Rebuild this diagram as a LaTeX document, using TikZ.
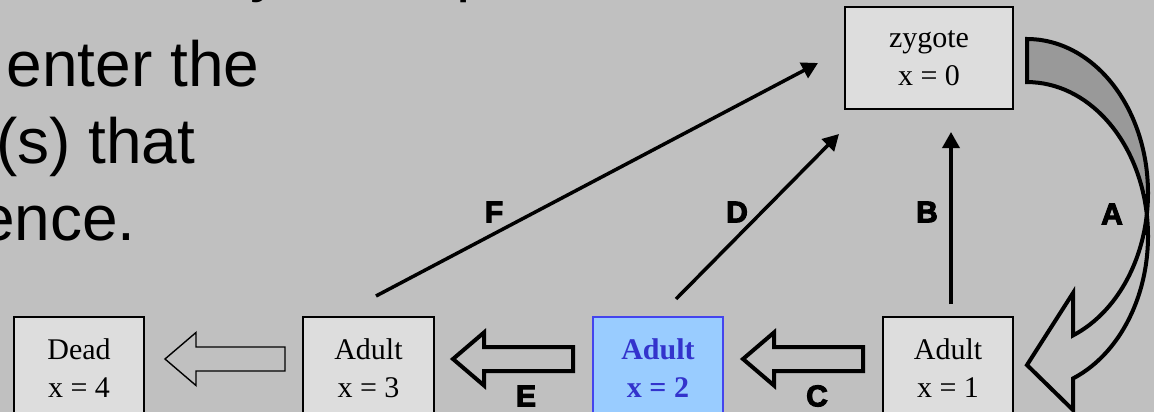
\documentclass[tikz,border=0pt]{standalone}
\usepackage{fontspec}
\setmainfont{Liberation Serif}
\newfontfamily\arialfont{Liberation Sans}
\newfontfamily\heavyfont[FakeBold=3.5]{Liberation Sans Bold}
\usetikzlibrary{arrows.meta,calc}
\definecolor{bg}{HTML}{C0C0C0}
\definecolor{boxfill}{HTML}{DDDDDD}
\definecolor{band}{HTML}{999999}
\definecolor{bluefill}{HTML}{99CCFF}
\definecolor{bluetext}{HTML}{3333CC}
\definecolor{blueline}{HTML}{4444EE}
\tikzset{
  statebox/.style={draw=black, line width=1.3pt, fill=boxfill, align=center,
    minimum width=130pt, minimum height=102pt, inner sep=0pt,
    font=\fontsize{30}{38}\selectfont},
  hibox/.style={statebox, draw=blueline, fill=bluefill, text=bluetext,
    font=\fontsize{30}{38}\selectfont\bfseries},
  bodytext/.style={anchor=base west, inner sep=0pt, font=\arialfont\fontsize{64}{76}\selectfont},
  tlabel/.style={inner sep=0pt, font=\heavyfont\fontsize{30}{30}\selectfont},
  transline/.style={draw=black, line width=3.5pt, -{Triangle[length=16pt,width=17pt]}},
  thinarrow/.style={draw=black, line width=1.4pt, fill=bg, line join=miter},
  thickarrow/.style={draw=black, line width=4pt, fill=bg, line join=miter},
  curvarrow/.style={draw=black, line width=4pt, line join=miter},
  pics/larrow/.style={code={
    \path[pic actions] (0,0) -- (31,26.5) -- (31,12) -- (120,12) -- (120,-12)
      -- (31,-12) -- (31,-26.5) -- cycle;}}
}
\begin{document}
\begin{tikzpicture}[x=1pt,y=1pt]
\useasboundingbox (0,0) rectangle (1154,-412);
\clip (0,0) rectangle (1154,-412);
\fill[bg] (0,0) rectangle (1154,-412);

% text of the slide (cut at the edges)
\node[bodytext] (ty) at (250,10) {y};
\node[bodytext] (tp) at (456,10) {p};
\node[bodytext] (t1) at (6.5,-87) {enter the};
\node[bodytext] (t2) at (-4,-163) {(s) that};
\node[bodytext] (t3) at (-21,-240) {ence.};

% state boxes
\node[statebox, minimum width=168pt] (zyg) at (929,-58) {zygote\\x = 0};
\node[statebox] (a1) at (948,-368) {Adult\\x = 1};
\node[hibox] (a2) at (658,-368) {Adult\\x = 2};
\node[statebox, minimum width=131pt] (a3) at (368.5,-368) {Adult\\x = 3};
\node[statebox] (dead) at (79,-368) {Dead\\x = 4};

% block arrows between bottom boxes
\pic[thinarrow] at (165,-359) {larrow};
\pic[thickarrow] at (453,-359) {larrow};
\pic[thickarrow] at (743,-359) {larrow};

% transition lines
\coordinate (Fs) at (376,-296);
\coordinate (Fe) at (818,-63);
\coordinate (Ds) at (676,-299);
\coordinate (De) at (839,-134);
\coordinate (Bs) at (951,-304);
\coordinate (Be) at (951,-132);
\draw[transline] (Fs) -- (Fe);
\draw[transline] (Ds) -- (De);
\draw[transline] (Bs) -- (Be);

% curved arrow A
\draw[curvarrow, fill=bg] (1146.8,-214.5)
  arc[start angle=8.04, end angle=-67.65, x radius=121pt, y radius=154pt]
  -- (1073,-410) -- (1027,-365) -- (1073,-293) -- (1073,-335.4)
  arc[start angle=-67.65, end angle=-8.04, x radius=121pt, y radius=154pt]
  -- cycle;
\draw[curvarrow, fill=band] (1027,-39)
  arc[start angle=90, end angle=-8.04, x radius=121pt, y radius=154pt]
  arc[start angle=8.04, end angle=90, x radius=121pt, y radius=154pt]
  -- cycle;

% labels
\node[tlabel] (lA) at (1112,-214) {A};
\node[tlabel] (lB) at (927,-212) {B};
\node[tlabel] (lC) at (817,-396) {C};
\node[tlabel] (lD) at (737,-212) {D};
\node[tlabel] (lE) at (526,-396) {E};
\node[tlabel] (lF) at (494,-212) {F};
\end{tikzpicture}
\end{document}
